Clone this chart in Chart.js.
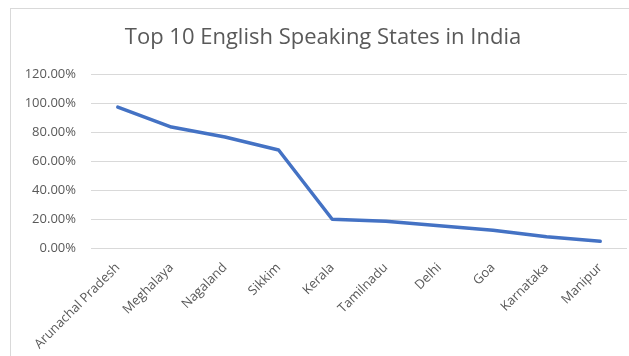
<!DOCTYPE html>
<html>
<head>
<meta charset="utf-8">
<script src="https://cdn.jsdelivr.net/npm/chart.js@4/dist/chart.umd.min.js"></script>
<style>
  html, body { margin: 0; padding: 0; background: #fff; }
  #wrap { position: relative; width: 629px; height: 356px; overflow: hidden; }
  #frame { position: absolute; left: 10px; top: 8px; width: 700px; height: 400px;
           border-left: 1px solid #d9d9d9; border-top: 1px solid #d9d9d9; }
  canvas { position: absolute; left: 0; top: 0; }
</style>
</head>
<body>
<div id="wrap">
  <div id="frame"></div>
  <canvas id="grafico" width="629" height="356"></canvas>
</div>
<script>
const estados = ["Arunachal Pradesh", "Meghalaya", "Nagaland", "Sikkim", "Kerala",
  "Tamilnadu", "Delhi", "Goa", "Karnataka", "Manipur"];
const percentual = [0.972, 0.834, 0.766, 0.676, 0.198, 0.185, 0.154, 0.123, 0.077, 0.046];
const yTicks = [0, 0.2, 0.4, 0.6, 0.8, 1.0, 1.2];

const cinza = "#595959";
Chart.defaults.font.family = "'Open Sans', 'Liberation Sans', sans-serif";

const ctx = document.getElementById("grafico").getContext("2d");
new Chart(ctx, {
  type: "line",
  data: {
    labels: estados,
    datasets: [
      {
        label: "English speakers",
        data: percentual,
        borderColor: "#4472C4",
        borderWidth: 3.5,
        borderCapStyle: "round",
        borderJoinStyle: "round",
        pointRadius: 0,
        tension: 0,
        fill: false,
      },
    ],
  },
  options: {
    responsive: false,
    animation: false,
    layout: { padding: { left: 19, right: 2, top: 0, bottom: 0 } },
    plugins: {
      legend: { display: false },
      tooltip: { enabled: false },
      title: {
        display: true,
        text: "Top 10 English Speaking States in India",
        color: cinza,
        font: { size: 22, weight: "normal", lineHeight: 1.2 },
        padding: { top: 25, bottom: 22.6 },
      },
    },
    scales: {
      x: {
        offset: true,
        grid: { display: false },
        border: { display: false },
        ticks: {
          color: cinza,
          font: { size: 13 },
          minRotation: 45,
          maxRotation: 45,
          autoSkip: false,
          padding: 4,
        },
        afterFit: (scale) => { scale.height = 108; },
      },
      y: {
        min: 0,
        max: 1.2,
        afterBuildTicks: (scale) => { scale.ticks = yTicks.map((v) => ({ value: v })); },
        grid: { color: "#d9d9d9", drawTicks: false },
        border: { display: false },
        ticks: {
          color: cinza,
          font: { size: 13 },
          padding: 15,
          callback: (v) => (v * 100).toFixed(2) + "%",
        },
        afterFit: (scale) => { scale.width = 72; },
      },
    },
  },
});
</script>
</body>
</html>
